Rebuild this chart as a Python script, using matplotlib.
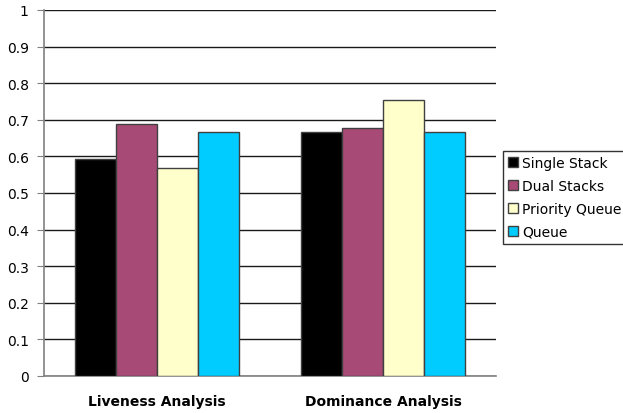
import matplotlib
matplotlib.use("Agg")
import matplotlib.pyplot as plt
import numpy as np

categories = ["Liveness Analysis", "Dominance Analysis"]
series = ["Single Stack", "Dual Stacks", "Priority Queue", "Queue"]
values = {
    "Single Stack": [0.594, 0.667],
    "Dual Stacks": [0.688, 0.677],
    "Priority Queue": [0.568, 0.754],
    "Queue": [0.667, 0.667],
}
colors = ["#000000", "#A84A76", "#FFFFCC", "#00CCFF"]
yticks = [0, 0.1, 0.2, 0.3, 0.4, 0.5, 0.6, 0.7, 0.8, 0.9, 1]
ytick_labels = ["0", "0.1", "0.2", "0.3", "0.4", "0.5", "0.6", "0.7", "0.8", "0.9", "1"]

plt.rcParams['font.family'] = ['DejaVu Sans']
fig = plt.figure(figsize=(6.23, 4.14), dpi=100)
ax = fig.add_axes([44/623, 37/414, 452/623, 366/414])

x = np.arange(len(categories)) + 0.5
w = 0.1825
for i, s in enumerate(series):
    ax.bar(x + (i - 1.5) * w, values[s], width=w, color=colors[i],
           edgecolor="#404040", linewidth=1.0, label=s, zorder=3)

ax.set_xlim(0, 2)
ax.set_ylim(0, 1)
ax.set_yticks(yticks)
ax.set_yticklabels(ytick_labels, fontsize=10)
ax.set_xticks(x)
ax.set_xticklabels(categories, fontsize=10, fontweight="bold")
ax.tick_params(axis="x", length=0, pad=13)
ax.tick_params(axis="y", length=5, direction="out", color="#808080", pad=6)
ax.yaxis.grid(True, color="#1a1a1a", linewidth=1.0, zorder=0)
for sp in ["top", "right"]:
    ax.spines[sp].set_visible(False)
for sp in ["left", "bottom"]:
    ax.spines[sp].set_color("#808080")
    ax.spines[sp].set_linewidth(1.2)

leg = fig.legend(loc="upper left", bbox_to_anchor=(503/623, 1 - 152/414),
                 fontsize=10, frameon=True, fancybox=False, edgecolor="#000000",
                 handlelength=0.75, handleheight=0.75, handletextpad=0.3,
                 borderpad=0.35, labelspacing=0.65, borderaxespad=0)
leg.get_frame().set_linewidth(1.0)

fig.savefig("out.png", dpi=100)
